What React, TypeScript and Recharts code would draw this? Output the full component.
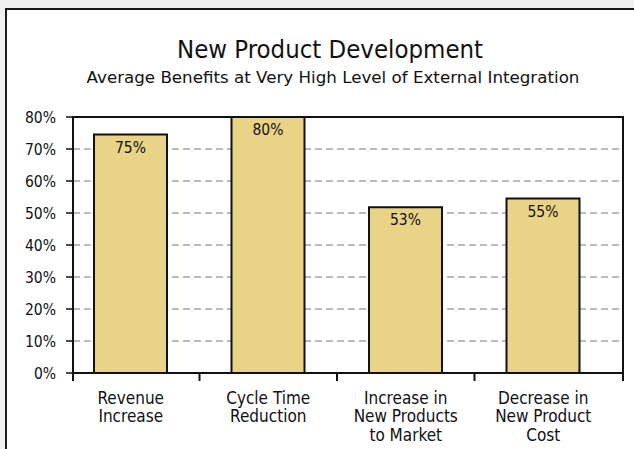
import React from "react";
import { BarChart, Bar, XAxis, YAxis, CartesianGrid, LabelList } from "recharts";

const CATEGORIES = [
  "Revenue\nIncrease",
  "Cycle Time\nReduction",
  "Increase in\nNew Products\nto Market",
  "Decrease in\nNew Product\nCost",
];
const BENEFITS = [74.5, 80, 51.8, 54.5];
const BENEFIT_LABELS = ["75%", "80%", "53%", "55%"];
const Y_TICKS = [0, 10, 20, 30, 40, 50, 60, 70, 80];

const FONT = '"DejaVu Sans Condensed", "DejaVu Sans", sans-serif';
const FONT_WIDE = '"DejaVu Sans", sans-serif';
const W = 634;
const H = 449;
const MARGIN = { top: 117, right: 11, left: 13, bottom: 16 };
const Y_AXIS_W = 60;
const X_AXIS_H = 60;
const PAD = { left: -11, right: 11 };

const plotLeft = MARGIN.left + Y_AXIS_W;
const plotRight = W - MARGIN.right;
const plotBottom = H - MARGIN.bottom - X_AXIS_H;
const halfBand =
  (plotRight - plotLeft - PAD.left - PAD.right) / CATEGORIES.length / 2;

const data = CATEGORIES.map((name, i) => ({
  name,
  value: BENEFITS[i],
  label: BENEFIT_LABELS[i],
}));

function CategoryTick(props: any) {
  const { x, y, payload, index } = props;
  const lines = String(payload.value).split("\n");
  return (
    <g>
      {index > 0 && (
        <line x1={x - halfBand} x2={x - halfBand} y1={y - 8} y2={y} stroke="#111" strokeWidth={2} />
      )}
      <text x={x} y={y + 23} textAnchor="middle" fontFamily={FONT} fontSize={17} fill="#111">
        {lines.map((l, i) => (
          <tspan key={i} x={x} dy={i === 0 ? 0 : 18.3}>
            {l}
          </tspan>
        ))}
      </text>
    </g>
  );
}

export default function App() {
  return (
    <div style={{ position: "fixed", left: 0, top: 0, width: W, height: H, overflow: "hidden", background: "#f0f0f0" }}>
      <div
        style={{
          position: "absolute",
          left: 5,
          top: 8,
          width: W + 20,
          height: H + 20,
          border: "2px solid #1a1a1a",
          background: "#fff",
        }}
      />
      <div
        style={{
          position: "absolute",
          left: 0,
          width: 660,
          top: 37,
          textAlign: "center",
          fontFamily: FONT,
          fontSize: 25.5,
          lineHeight: "25px",
          color: "#111",
        }}
      >
        New Product Development
      </div>
      <div
        style={{
          position: "absolute",
          left: 0,
          width: 666,
          top: 69,
          textAlign: "center",
          fontFamily: FONT_WIDE,
          fontSize: 16.7,
          lineHeight: "17px",
          color: "#111",
        }}
      >
        Average Benefits at Very High Level of External Integration
      </div>
      <div style={{ position: "absolute", left: 0, top: 0 }}>
        <BarChart width={W} height={H} data={data} margin={MARGIN}>
          <CartesianGrid vertical={false} stroke="#a4a4a4" strokeDasharray="7 4" strokeWidth={1.5} />
          <XAxis
            dataKey="name"
            height={X_AXIS_H}
            padding={PAD}
            interval={0}
            tickLine={false}
            tickSize={8}
            tickMargin={0}
            axisLine={{ stroke: "#111", strokeWidth: 2 }}
            tick={<CategoryTick />}
          />
          <YAxis
            width={Y_AXIS_W}
            domain={[0, 80]}
            ticks={Y_TICKS}
            interval={0}
            tickFormatter={(v: number) => `${v}%`}
            tickSize={7}
            tickMargin={10}
            axisLine={{ stroke: "#111", strokeWidth: 2 }}
            tickLine={{ stroke: "#111", strokeWidth: 1.5 }}
            tick={{ fill: "#111", fontFamily: FONT, fontSize: 15.5 }}
          />
          <Bar dataKey="value" barSize={73} fill="#e9d386" stroke="#111" strokeWidth={2} isAnimationActive={false}>
            <LabelList
              dataKey="label"
              position="insideTop"
              offset={7}
              fill="#111"
              fontFamily={FONT}
              fontSize={15.5}
            />
          </Bar>
        </BarChart>
      </div>
      <div
        style={{
          position: "absolute",
          left: plotLeft - 1,
          top: MARGIN.top - 1,
          width: plotRight - plotLeft,
          height: plotBottom - MARGIN.top,
          borderTop: "2px solid #111",
          borderRight: "2px solid #111",
          pointerEvents: "none",
        }}
      />
      <div style={{ position: "absolute", left: plotLeft - 1, top: plotBottom, width: 2, height: 8, background: "#111" }} />
      <div style={{ position: "absolute", left: plotRight - 1, top: plotBottom, width: 2, height: 8, background: "#111" }} />
    </div>
  );
}
